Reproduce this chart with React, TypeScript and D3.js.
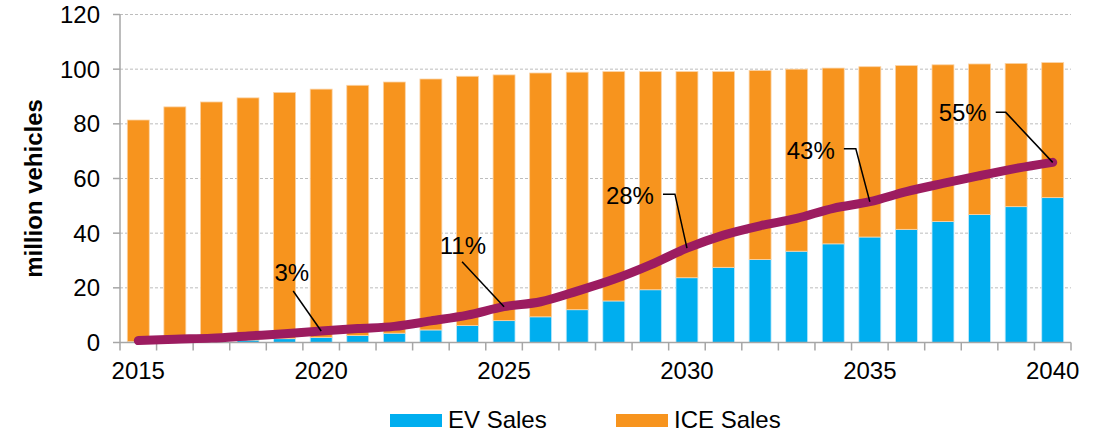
import React from "react";
import * as d3 from "d3";

const years = d3.range(2015, 2041).map(String);
const totalSales = [81.4, 86.2, 88.0, 89.5, 91.5, 92.7, 94.1, 95.3, 96.4, 97.4, 97.9, 98.6, 98.9, 99.1, 99.1, 99.1, 99.1, 99.5, 100.0, 100.4, 100.9, 101.3, 101.6, 101.9, 102.1, 102.4];
const evSales = [0.3, 0.4, 0.6, 0.9, 1.4, 1.9, 2.6, 3.4, 4.6, 6.2, 8.0, 9.4, 12.0, 15.2, 19.3, 23.7, 27.5, 30.4, 33.4, 36.1, 38.6, 41.4, 44.3, 46.8, 49.7, 53.0];
const iceSales = totalSales.map((t, i) => +(t - evSales[i]).toFixed(1));
const evFleet = [0.7, 1.2, 1.6, 2.4, 3.2, 4.2, 5.1, 5.9, 7.9, 10.0, 13.1, 14.9, 18.8, 23.1, 28.4, 34.5, 39.3, 42.7, 45.4, 49.1, 51.5, 55.2, 58.2, 61.0, 63.7, 65.9];
const yTicks = [0, 20, 40, 60, 80, 100, 120];
const xLabels = ["2015", "2020", "2025", "2030", "2035", "2040"];
const annYears = ["2020", "2025", "2030", "2035", "2040"];
const annLabels = ["3%", "11%", "28%", "43%", "55%"];

// layout for annotation leaders (pixel offsets from the anchored point)
const annLayout = [
  { tx: -12, ty: -50, pts: [[-28, -40]] },
  { tx: -18, ty: -53, pts: [[-42, -45]] },
  { tx: -33, ty: -44, pts: [[-12, -54], [-24, -54]] },
  { tx: -35, ty: -43, pts: [[-14, -53], [-26, -53]] },
  { tx: -66, ty: -41, pts: [[-47, -50], [-57, -50]] },
];

const BLUE = "#00aeef";
const ORANGE = "#f7941e";
const PURPLE = "#9c1c60";
const FONT = "'Liberation Sans', Arial, sans-serif";
const FS = 24;

export default function App() {
  const W = 1102, H = 434;
  const x0 = 120, x1 = 1071, yTop = 14.5, yBot = 342.5;
  const x = d3.scaleBand().domain(years).range([x0, x1]).paddingInner(0.4).paddingOuter(0.2);
  const y = d3.scaleLinear().domain([0, 120]).range([yBot, yTop]);
  const cx = (yr: string) => (x(yr) as number) + x.bandwidth() / 2;
  const step = x.step();

  const line = d3
    .line<number>()
    .x((_, i) => cx(years[i]))
    .y((v) => y(v))
    .curve(d3.curveMonotoneX);

  return (
    <svg width={W} height={H} style={{ position: "absolute", left: 0, top: 0 }} fontFamily={FONT}>
      {/* gridlines */}
      {yTicks.filter((t) => t > 0).map((t) => (
        <line key={t} x1={x0} x2={x1} y1={y(t)} y2={y(t)} stroke="#bdbdbd" strokeWidth={1} strokeDasharray="3,2" />
      ))}
      {/* bars */}
      {years.map((yr, i) => (
        <g key={yr}>
          <rect x={x(yr)} width={x.bandwidth()} y={y(evSales[i])} height={y(0) - y(evSales[i])} fill={BLUE} stroke="#bfe9fb" strokeWidth={0.8} />
          <rect x={x(yr)} width={x.bandwidth()} y={y(evSales[i] + iceSales[i])} height={y(evSales[i]) - y(evSales[i] + iceSales[i])} fill={ORANGE} stroke="#fbd3a5" strokeWidth={0.8} />
        </g>
      ))}
      {/* axes */}
      <line x1={x0} x2={x0} y1={yTop} y2={yBot} stroke="#a6a6a6" strokeWidth={1.5} />
      <line x1={x0} x2={x1} y1={yBot} y2={yBot} stroke="#a6a6a6" strokeWidth={1.5} />
      {yTicks.map((t) => (
        <g key={t}>
          <line x1={x0 - 7} x2={x0} y1={y(t)} y2={y(t)} stroke="#a6a6a6" strokeWidth={1.5} />
          <text x={100} y={y(t)} dy="0.36em" textAnchor="end" fontSize={FS} fill="#000">{t}</text>
        </g>
      ))}
      {d3.range(years.length + 1).map((i) => (
        <line key={i} x1={x0 + i * step} x2={x0 + i * step} y1={yBot} y2={yBot + 8} stroke="#a6a6a6" strokeWidth={1.5} />
      ))}
      {xLabels.map((l) => (
        <text key={l} x={cx(l)} y={379} textAnchor="middle" fontSize={FS} fill="#000">{l}</text>
      ))}
      <text transform={`translate(42,${(yTop + yBot) / 2 + 10}) rotate(-90)`} textAnchor="middle" fontSize={24} fontWeight="bold" fill="#000">million vehicles</text>
      {/* line */}
      <path d={line(evFleet) || ""} fill="none" stroke={PURPLE} strokeWidth={9} strokeLinecap="round" strokeLinejoin="round" />
      {/* annotations */}
      {annYears.map((yr, k) => {
        const i = years.indexOf(yr);
        const px = cx(yr), py = y(evFleet[i]);
        const L = annLayout[k];
        const pts = [[px, py], ...L.pts.map(([dx, dy]) => [px + dx, py + dy])];
        return (
          <g key={yr}>
            <polyline points={pts.map((p) => p.join(",")).join(" ")} fill="none" stroke="#000" strokeWidth={1.5} />
            <text x={px + L.tx} y={py + L.ty} textAnchor="end" fontSize={FS} fill="#000">{annLabels[k]}</text>
          </g>
        );
      })}
      {/* legend */}
      <rect x={390} y={414} width={52} height={13} fill={BLUE} />
      <text x={448} y={428} fontSize={FS} fill="#000">EV Sales</text>
      <rect x={616} y={414} width={52} height={13} fill={ORANGE} />
      <text x={674} y={428} fontSize={FS} fill="#000">ICE Sales</text>
    </svg>
  );
}
